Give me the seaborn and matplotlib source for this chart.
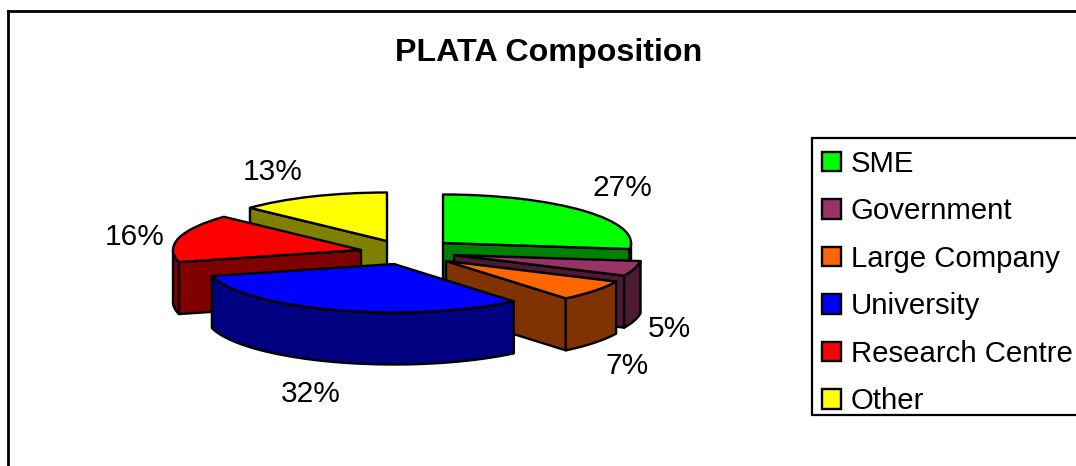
import matplotlib
matplotlib.use("Agg")
import matplotlib.pyplot as plt
import numpy as np
import seaborn as sns
from matplotlib.colors import to_rgb
from matplotlib.patches import Patch, Polygon, Rectangle

categories = ["SME", "Government", "Large Company", "University", "Research Centre", "Other"]
shares = [27, 5, 7, 32, 16, 13]
share_labels = ["27%", "5%", "7%", "32%", "16%", "13%"]
slice_colors = ["#00FF00", "#993366", "#FF6600", "#0000FF", "#FF0000", "#FFFF00"]

W, H = 1076, 466
# layout, all in image pixels
RX, RY, DEPTH = 188, 48.5, 52
CX, CY = 415, 250
apex_px = [(443, 243), (454, 255), (446, 261), (394, 264), (361, 250), (387, 241)]
label_px = [(622, 188), (669, 329), (627, 366), (311, 394), (135, 237), (273, 172)]
draw_order = [5, 0, 4, 1, 2, 3]
LW = 1.7


def to_data(px, py):
    return (px - CX) / RX, (CY - py) / RY


def add_walls(ax, wedge, color, z):
    # side faces of one slice, only the ones facing the viewer
    x0, y0 = wedge.center
    dz = DEPTH / RY
    t1, t2 = wedge.theta1, wedge.theta2
    dark = tuple(c * 0.5 for c in to_rgb(color))
    style = dict(facecolor=dark, edgecolor="black", linewidth=LW, joinstyle="round", zorder=z)

    for t, visible in ((t2, np.cos(np.radians(t2)) < -1e-6), (t1, np.cos(np.radians(t1)) > 1e-6)):
        if visible:
            ex, ey = x0 + np.cos(np.radians(t)), y0 + np.sin(np.radians(t))
            ax.add_patch(Polygon([(x0, y0), (ex, ey), (ex, ey - dz), (x0, y0 - dz)], **style))

    ts = np.radians(np.linspace(t1, t2, 300))
    ts = ts[np.sin(ts) <= 0]
    if len(ts) > 1:
        xs, ys = x0 + np.cos(ts), y0 + np.sin(ts)
        pts = np.column_stack([np.r_[xs, xs[::-1]], np.r_[ys, ys[::-1] - dz]])
        ax.add_patch(Polygon(pts, **style))


def plot_pie():
    sns.set_theme(style="white")
    plt.rcParams["font.family"] = ["Liberation Sans", "DejaVu Sans"]

    fig = plt.figure(figsize=(W / 100, H / 100), dpi=100)
    left, top = 8, 10.5
    ax = fig.add_axes([left / W, 0, 1 - left / W, 1 - top / H])

    wedges, _ = ax.pie(
        shares, colors=slice_colors, startangle=90, counterclock=False,
        wedgeprops=dict(edgecolor="black", linewidth=LW, joinstyle="round"),
    )

    ax.set_aspect("auto")
    x_min, _ = to_data(left, 0)
    x_max, _ = to_data(W, 0)
    _, y_min = to_data(0, H)
    _, y_max = to_data(0, top)
    ax.set_xlim(x_min, x_max)
    ax.set_ylim(y_min, y_max)

    for rank, i in enumerate(draw_order):
        wedges[i].set_center(to_data(*apex_px[i]))
        wedges[i].set_zorder(2 + rank + 0.5)
        add_walls(ax, wedges[i], slice_colors[i], 2 + rank)

    for i, text in enumerate(share_labels):
        x, y = to_data(*label_px[i])
        ax.text(x, y, text, fontsize=21.5, color="black", ha="center", va="center", zorder=20)

    fig.text(549 / W, 1 - 53 / H, "PLATA Composition", fontsize=23.2, fontweight="bold",
             color="black", ha="center", va="center")

    # outer chart frame runs off the right and bottom of the image
    ax.set_frame_on(True)
    sns.despine(ax=ax, top=False, left=False, right=True, bottom=True)
    for side in ("top", "left"):
        ax.spines[side].set_color("black")
        ax.spines[side].set_linewidth(2)

    # legend box also runs off the right edge
    fig.add_artist(Rectangle((812 / W, 1 - 415 / H), 300 / W, 277 / H, transform=fig.transFigure,
                             facecolor="white", edgecolor="black", linewidth=1.6, zorder=30))
    handles = [Patch(facecolor=c, edgecolor="black", linewidth=LW) for c in slice_colors]
    leg = fig.legend(
        handles, categories, loc="upper left", bbox_to_anchor=(822 / W, 1 - 150 / H),
        bbox_transform=fig.transFigure, borderaxespad=0, fontsize=21.2, frameon=False,
        labelcolor="black", handlelength=0.64, handleheight=0.64, handletextpad=0.34,
        labelspacing=0.66, borderpad=0,
    )
    leg.set_zorder(31)

    fig.savefig("out.png", dpi=100, facecolor="white")
    plt.close(fig)


if __name__ == "__main__":
    plot_pie()
